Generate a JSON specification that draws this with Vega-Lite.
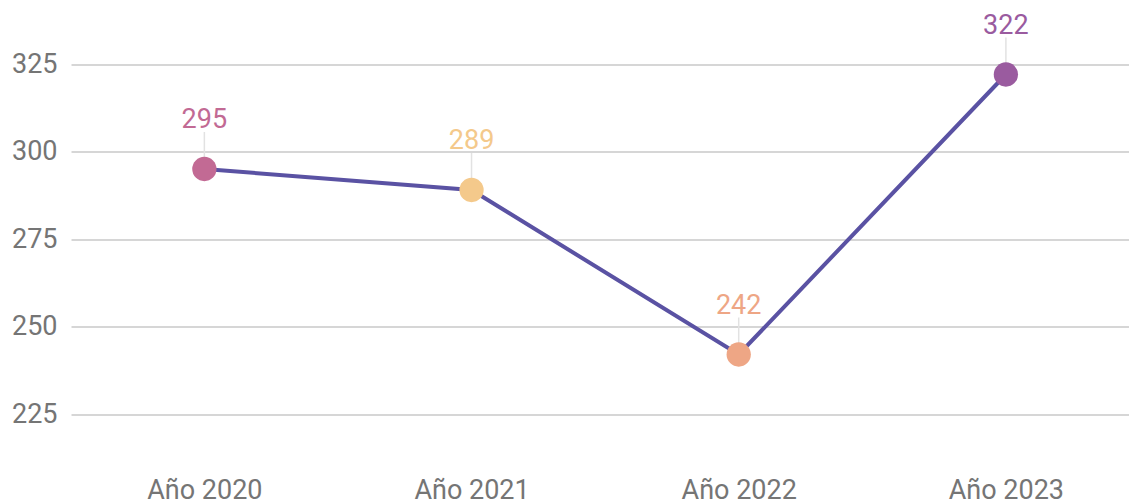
{
  "$schema": "https://vega.github.io/schema/vega-lite/v6.json",
  "width": 1058,
  "height": 455,
  "autosize": {"type": "none"},
  "padding": {"left": 71, "top": 11.5, "right": 0, "bottom": 37.5},
  "config": {"view": {"stroke": null}, "font": "Roboto"},
  "data": {
    "values": [
      {"year": "Año 2020", "value": 295, "color": "#c26a94"},
      {"year": "Año 2021", "value": 289, "color": "#f4c98b"},
      {"year": "Año 2022", "value": 242, "color": "#eea685"},
      {"year": "Año 2023", "value": 322, "color": "#9a5b9f"}
    ]
  },
  "encoding": {
    "x": {
      "field": "year",
      "type": "ordinal",
      "sort": null,
      "scale": {"type": "point", "padding": 0.48, "align": 0.52},
      "axis": {
        "title": null,
        "domain": false,
        "ticks": false,
        "grid": false,
        "labelAngle": 0,
        "labelFontSize": 27,
        "labelColor": "#757575",
        "labelPadding": 11
      }
    },
    "y": {
      "field": "value",
      "type": "quantitative",
      "scale": {"domain": [210, 340], "nice": false, "zero": false},
      "axis": {
        "title": null,
        "values": [225, 250, 275, 300, 325],
        "domain": false,
        "ticks": false,
        "gridColor": "#c9c9c9",
        "gridWidth": 1.5,
        "labelFontSize": 27,
        "labelColor": "#757575",
        "labelPadding": 14
      }
    }
  },
  "layer": [
    {
      "mark": {"type": "rule", "yOffset": -37, "color": "#e2e2e2", "strokeWidth": 1.5},
      "encoding": {"y2": {"field": "value"}}
    },
    {
      "mark": {"type": "line", "color": "#5a52a3", "strokeWidth": 4},
      "encoding": {}
    },
    {
      "mark": {"type": "point", "filled": true, "size": 590, "opacity": 1, "strokeWidth": 0},
      "encoding": {"color": {"field": "color", "type": "nominal", "scale": null}}
    },
    {
      "mark": {"type": "text", "dy": -41, "baseline": "alphabetic", "fontSize": 27},
      "encoding": {
        "text": {"field": "value", "type": "quantitative"},
        "color": {"field": "color", "type": "nominal", "scale": null}
      }
    }
  ]
}
